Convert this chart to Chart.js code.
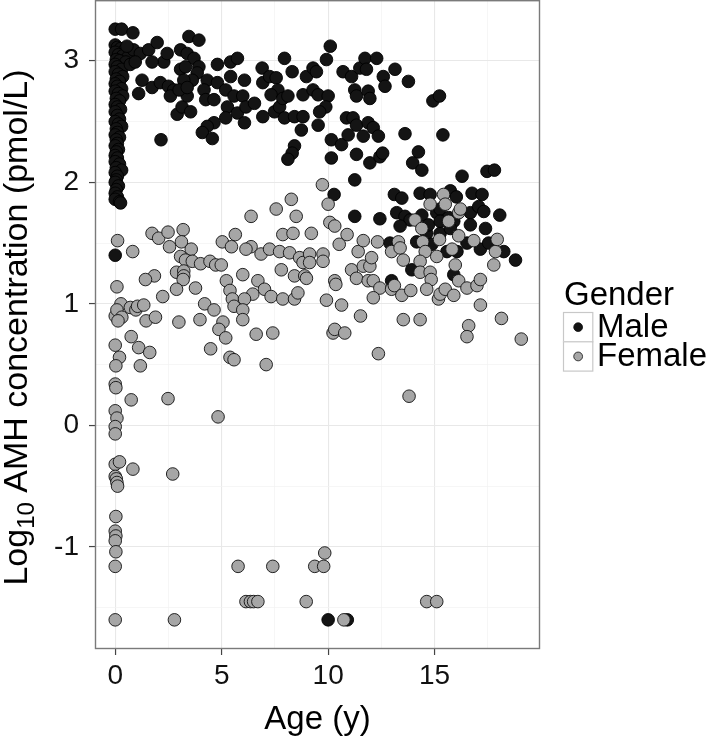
<!DOCTYPE html>
<html><head><meta charset="utf-8">
<script src="https://cdn.jsdelivr.net/npm/chart.js@4/dist/chart.umd.min.js"></script>
<style>html,body{margin:0;padding:0;background:#fff;}canvas{display:block;}</style>
</head><body>
<canvas id="c" width="709" height="738"></canvas>
<script>
const categories = ['Male', 'Female'];
const legendTitle = 'Gender';
const xTitle = 'Age (y)';
const yTitleParts = ['Log', '10', ' AMH concentration (pmol/L)'];
const xMajorTicks = [0, 5, 10, 15];
const xMinorTicks = [2.5, 7.5, 12.5, 17.5];
const yMajorTicks = [-1, 0, 1, 2, 3];
const yMinorTicks = [-1.5, -0.5, 0.5, 1.5, 2.5];
const xRange = [-0.95, 19.95];
const yRange = [-1.84, 3.50];

const male = [
[0.00,3.26],[0.30,3.26],[0.83,3.23],[0.00,3.13],[0.10,3.11],[0.25,3.10],[0.45,3.09],[0.00,3.07],[0.15,3.05],[0.35,3.04],[0.60,3.03],[0.05,3.01],[0.20,3.00],[0.50,2.99],[0.00,2.97],[0.10,2.95],[0.30,2.93],[0.00,2.91],[0.15,2.89],[0.35,2.87],[0.05,2.85],[0.20,2.83],[0.00,2.81],[0.10,2.79],[0.30,2.77],[0.00,2.75],[0.15,2.73],[0.35,2.71],[0.05,2.69],[0.20,2.67],[0.00,2.64],[0.10,2.62],[0.25,2.60],[0.00,2.58],[0.10,2.55],[0.20,2.52],[0.00,2.50],[0.15,2.48],[0.30,2.46],[0.05,2.44],[0.10,2.41],[0.00,2.39],[0.20,2.37],[0.05,2.35],[0.10,2.32],[0.00,2.30],[0.15,2.27],[0.05,2.25],[0.00,2.22],[0.10,2.20],[0.00,2.17],[0.20,2.15],[0.05,2.12],[0.30,2.10],[0.00,2.08],[0.10,2.05],[0.05,2.02],[0.00,2.00],[0.15,1.97],[0.05,1.94],[0.00,1.91],[0.10,1.88],[0.00,1.86],[0.20,1.84],[0.25,1.83],
[0.86,3.09],[1.18,3.06],[0.71,2.97],[0.94,2.99],[0.55,3.12],[0.00,1.40],
[1.26,2.84],[1.10,2.73],[1.73,2.78],[2.12,2.82],[1.57,3.09],[1.97,3.15],[2.28,2.99],[2.44,3.06],[1.73,2.99],[2.15,2.35],[2.50,2.79],[2.75,2.76],[2.59,2.71],[2.91,2.56],[3.14,2.62],[3.38,2.71],[3.54,2.58],[3.46,3.20],[3.93,3.17],[3.07,3.09],[3.38,3.06],[3.70,3.02],[3.93,2.95],[3.85,2.90],[3.62,2.84],[3.07,2.93],[3.22,2.84],[3.00,2.76],[3.38,2.78],[3.30,2.95],[4.32,2.84],[4.80,2.97],[4.80,2.82],[4.17,2.76],[4.25,2.68],[4.64,2.68],[5.19,2.76],[5.42,2.99],[5.74,3.02],[5.42,2.87],[5.58,2.71],[5.27,2.62],[5.74,2.57],[5.19,2.53],[4.64,2.49],[4.32,2.46],[4.09,2.41],[4.56,2.36],
[6.07,2.84],[5.99,2.71],[6.14,2.62],[6.07,2.49],[6.54,2.65],[6.90,2.94],[6.93,2.82],[7.25,2.87],[7.56,2.86],[7.64,2.76],[7.32,2.72],[7.48,2.58],[6.93,2.54],[7.72,2.62],[7.87,2.69],[8.11,2.71],[7.95,3.02],[8.31,2.91],[7.95,2.53],[8.42,2.54],[8.82,2.54],[8.74,2.43],[8.98,2.87],[8.82,2.72],[9.29,2.94],[9.45,2.91],[9.29,2.76],[9.53,2.72],[10.00,2.71],[9.89,2.62],[9.60,2.58],[9.53,2.47],[9.92,3.01],[10.10,3.12],[8.42,2.30],[8.31,2.24],[8.11,2.19],[10.15,2.35],[10.63,2.31],[10.15,2.20],[10.94,2.39],[10.86,2.53],[11.17,2.53],[11.33,2.47],[10.70,2.91],[11.10,2.87],[11.25,2.76],[11.33,2.71],[11.49,2.94],[11.73,3.02],[11.80,2.93],[12.28,3.02],[11.88,2.75],[11.96,2.69],[11.65,2.38],[11.88,2.49],[12.12,2.45],[12.36,2.38],[11.33,2.23],[11.96,2.16],[12.43,2.21],[12.56,2.24],[12.59,2.87],[12.67,2.79],[13.14,2.93],[13.77,2.83],[13.61,2.40],[14.24,2.25],[13.97,2.16],[14.40,2.10],[14.92,2.67],[15.23,2.71],[15.39,2.39],[11.25,2.02],[10.28,1.90],[11.25,1.72],[12.43,1.70],[16.29,2.05],[17.46,2.09],[17.81,2.10],[13.11,1.90],[13.46,1.87],[14.32,1.91],[14.79,1.90],[15.74,1.93],[16.02,1.88],[16.76,1.91],[17.23,1.90],[13.22,1.75],[13.61,1.72],[13.85,1.69],[14.40,1.73],[15.10,1.75],[15.26,1.78],[16.68,1.75],[17.07,1.80],[17.31,1.76],[18.06,1.73],[17.39,1.62],[13.38,1.64],[15.66,1.71],[15.90,1.68],
[12.90,1.50],[14.16,1.51],[14.63,1.58],[15.26,1.58],[15.74,1.62],[16.68,1.65],[17.15,1.45],[16.52,1.50],[16.05,1.43],[15.58,1.43],[14.87,1.49],[17.54,1.50],[18.25,1.43],[18.80,1.36],[15.90,1.24],[13.93,1.28],[12.98,1.19],[14.71,1.65],[15.26,1.68],
[10.00,-1.60],[10.90,-1.60]
];

const female = [
[0.11,1.52],[0.82,1.43],[0.08,1.14],[1.73,1.58],[2.04,1.54],[2.48,1.59],[2.55,1.47],[3.19,1.61],[3.11,1.51],[3.57,1.45],[3.07,1.39],[3.30,1.36],[3.62,1.35],[4.01,1.33],[4.45,1.35],[4.72,1.32],[4.98,1.32],[5.03,1.51],[5.46,1.47],[5.64,1.57],[2.88,1.26],[3.22,1.27],[3.22,1.23],[3.19,1.20],[1.84,1.23],[1.42,1.20],[2.88,1.12],[3.77,1.13],[5.22,1.19],[5.39,1.11],[2.23,1.06],[4.20,1.00],[4.64,0.95],[5.50,1.04],[5.58,0.98],[0.27,1.00],[0.00,0.90],[0.08,0.95],[0.71,0.97],[0.97,0.95],[1.05,0.98],[1.34,0.99],[0.31,0.89],[0.13,0.86],[1.45,0.86],[1.89,0.89],[2.99,0.85],[3.98,0.87],[5.06,0.85],[4.87,0.79],[5.19,0.72],[0.75,0.73],[0.00,0.66],[1.10,0.64],[1.62,0.60],[0.20,0.56],[0.03,0.49],[1.18,0.49],[4.48,0.63],[5.39,0.56],[5.58,0.54],[0.00,0.34],[0.03,0.31],[0.75,0.21],[2.48,0.22],[4.83,0.07],[0.00,0.12],[0.08,0.06],[0.00,-0.01],[0.00,-0.07],
[0.00,-0.32],[0.20,-0.30],[0.83,-0.36],[2.70,-0.40],[0.00,-0.42],[0.05,-0.44],[0.08,-0.47],[0.11,-0.50],[0.03,-0.75],[0.00,-0.87],[0.03,-0.91],[0.00,-0.95],[0.03,-1.04],[0.00,-1.16],[0.00,-1.60],[2.78,-1.60],[5.77,-1.16],
[7.40,-1.16],[9.84,-1.05],[9.37,-1.16],[9.79,-1.16],[6.14,-1.45],[6.35,-1.45],[6.50,-1.45],[6.70,-1.45],[8.97,-1.45],[14.63,-1.45],[15.10,-1.45],[10.74,-1.60],
[9.73,1.98],[10.00,1.82],[8.27,1.86],[7.56,1.78],[6.38,1.72],[8.50,1.72],[14.79,1.82],[15.42,1.90],[15.50,1.82],[16.13,1.75],[16.21,1.78],[14.08,1.69],
[7.87,1.57],[8.35,1.58],[9.21,1.58],[10.08,1.67],[10.31,1.64],[10.89,1.57],[10.52,1.49],[11.41,1.43],[11.65,1.52],[12.32,1.51],[6.38,1.47],[6.14,1.45],[6.85,1.41],[7.25,1.45],[7.72,1.43],[8.19,1.42],[8.66,1.38],[8.82,1.34],[9.13,1.41],[9.76,1.41],[9.76,1.35],[9.13,1.34],[7.80,1.28],[8.42,1.23],[8.90,1.23],[8.98,1.21],[5.99,1.24],[6.70,1.19],[7.01,1.12],[7.32,1.06],[7.87,1.04],[8.42,1.04],[8.58,1.09],[6.46,1.08],[6.07,1.04],[5.99,0.95],[5.99,0.87],[6.62,0.75],[7.40,0.76],[7.09,0.50],[9.92,1.03],[10.63,0.99],[10.31,1.19],[10.36,1.16],[11.10,1.28],[11.33,1.21],[11.65,1.31],[11.96,1.31],[12.04,1.38],[11.88,1.19],[12.12,1.19],[12.43,1.13],[12.12,1.05],[10.23,0.76],[10.31,0.79],[10.78,0.76],[11.52,0.90],[12.36,0.59],[13.80,0.24],[12.98,1.43],[13.30,1.51],[13.38,1.46],[13.53,1.36],[12.98,1.12],[13.11,1.15],[13.46,1.07],[13.88,1.11],[13.53,0.87],[14.32,0.87],[14.40,1.62],[14.44,1.51],[14.56,1.43],[14.32,1.35],[14.32,1.26],[14.79,1.26],[14.84,1.20],[14.63,1.12],[15.10,1.39],[15.23,1.53],[15.66,1.68],[15.82,1.45],[15.97,1.32],[16.13,1.56],[16.13,1.19],[15.18,1.04],[15.26,1.08],[15.50,1.12],[15.90,1.07],[16.52,1.13],[16.84,1.52],[16.99,1.15],[17.15,1.20],[17.15,0.99],[17.78,1.32],[17.86,1.43],[17.94,1.53],[16.60,0.82],[16.52,0.73],[18.14,0.88],[19.07,0.71]
];

const seriesColors = {Male: '#141414', Female: '#a6a6a6'};
const FONT = "'Liberation Sans', Arial, Helvetica, sans-serif";

function toPts(arr) { return arr.map(p => ({x: p[0], y: p[1]})); }

const decorPlugin = {
  id: 'decor',
  beforeDraw(chart) {
    const ctx = chart.ctx;
    ctx.save(); ctx.fillStyle = '#fff'; ctx.fillRect(0, 0, chart.width, chart.height); ctx.restore();
  },
  afterDraw(chart) {
    const ctx = chart.ctx, a = chart.chartArea;
    ctx.save();
    // panel border
    ctx.strokeStyle = '#7a7a7a'; ctx.lineWidth = 1.4;
    ctx.strokeRect(a.left + 0.5, a.top + 0.7, a.right - a.left - 1, a.bottom - a.top - 1.2);
    // x title
    ctx.fillStyle = '#000';
    ctx.font = '33px ' + FONT;
    ctx.textAlign = 'center'; ctx.textBaseline = 'alphabetic';
    ctx.fillText(xTitle, (a.left + a.right) / 2, 729);
    // y title with subscript
    ctx.save();
    ctx.translate(27, (a.top + a.bottom) / 2 + 3);
    ctx.rotate(-Math.PI / 2);
    ctx.textAlign = 'left';
    const bigF = '34px ' + FONT, smallF = '24px ' + FONT;
    ctx.font = bigF; const w1 = ctx.measureText(yTitleParts[0]).width; const w3 = ctx.measureText(yTitleParts[2]).width;
    ctx.font = smallF; const w2 = ctx.measureText(yTitleParts[1]).width;
    let sx = -(w1 + w2 + w3) / 2;
    ctx.font = bigF; ctx.fillText(yTitleParts[0], sx, 0);
    ctx.font = smallF; ctx.fillText(yTitleParts[1], sx + w1, 7);
    ctx.font = bigF; ctx.fillText(yTitleParts[2], sx + w1 + w2, 0);
    ctx.restore();
    // legend
    ctx.font = '33px ' + FONT; ctx.textAlign = 'left'; ctx.fillStyle = '#000';
    ctx.fillText(legendTitle, 564, 305);
    const boxX = 563, boxY0 = 312, boxS = 29.3;
    categories.forEach((c, i) => {
      const by = boxY0 + i * boxS;
      ctx.fillStyle = '#fff'; ctx.fillRect(boxX, by, boxS, boxS);
      ctx.strokeStyle = '#c8c8c8'; ctx.lineWidth = 1.2; ctx.strokeRect(boxX + 0.5, by + 0.5, boxS, boxS);
      ctx.beginPath(); ctx.arc(boxX + boxS / 2 + 0.5, by + boxS / 2 + 0.5, 4.4, 0, Math.PI * 2);
      ctx.fillStyle = seriesColors[c]; ctx.fill(); ctx.strokeStyle = '#111'; ctx.lineWidth = 0.8; ctx.stroke();
      ctx.fillStyle = '#000'; ctx.font = '33px ' + FONT;
      ctx.fillText(c, 597, by + 24.5);
    });
    ctx.restore();
  }
};

const gridColor = '#e8e8e8';
new Chart(document.getElementById('c'), {
  type: 'scatter',
  data: {
    datasets: [
      {label: categories[0], data: toPts(male), order: 1, backgroundColor: seriesColors.Male, borderColor: '#000', borderWidth: 0.9, pointRadius: 6.3, pointHoverRadius: 6.3},
      {label: categories[1], data: toPts(female), order: 0, backgroundColor: seriesColors.Female, borderColor: '#111', borderWidth: 0.9, pointRadius: 6.3, pointHoverRadius: 6.3}
    ]
  },
  options: {
    responsive: false, animation: false, devicePixelRatio: 1,
    layout: {autoPadding: false, padding: {left: 0, right: 169, top: 0, bottom: 0}},
    plugins: {legend: {display: false}, tooltip: {enabled: false}},
    scales: {
      x: {
        type: 'linear', min: xRange[0], max: xRange[1],
        afterBuildTicks: s => { s.ticks = [...xMajorTicks, ...xMinorTicks].sort((p, q) => p - q).map(v => ({value: v})); },
        afterFit: s => { s.height = 89; s.paddingLeft = 0; s.paddingRight = 0; },
        border: {display: false},
        grid: {
          color: c => xMajorTicks.includes(c.tick.value) ? gridColor : '#f2f2f2',
          lineWidth: c => xMajorTicks.includes(c.tick.value) ? 1.1 : 0.7,
          tickLength: 6, tickWidth: 1.2,
          tickColor: c => xMajorTicks.includes(c.tick.value) ? '#444' : 'rgba(0,0,0,0)'
        },
        ticks: {autoSkip: false, maxRotation: 0, padding: 4, color: '#111', font: {size: 28, family: FONT},
          callback: v => xMajorTicks.includes(v) ? String(v) : ''}
      },
      y: {
        type: 'linear', min: yRange[0], max: yRange[1],
        afterBuildTicks: s => { s.ticks = [...yMajorTicks, ...yMinorTicks].sort((p, q) => p - q).map(v => ({value: v})); },
        afterFit: s => { s.width = 95; s.paddingTop = 0; s.paddingBottom = 0; },
        border: {display: false},
        grid: {
          color: c => yMajorTicks.includes(c.tick.value) ? gridColor : '#f2f2f2',
          lineWidth: c => yMajorTicks.includes(c.tick.value) ? 1.1 : 0.7,
          tickLength: 6, tickWidth: 1.2,
          tickColor: c => yMajorTicks.includes(c.tick.value) ? '#444' : 'rgba(0,0,0,0)'
        },
        ticks: {autoSkip: false, padding: 10, color: '#111', font: {size: 28, family: FONT},
          callback: v => yMajorTicks.includes(v) ? String(v) : ''}
      }
    }
  },
  plugins: [decorPlugin]
});
</script>
</body></html>
